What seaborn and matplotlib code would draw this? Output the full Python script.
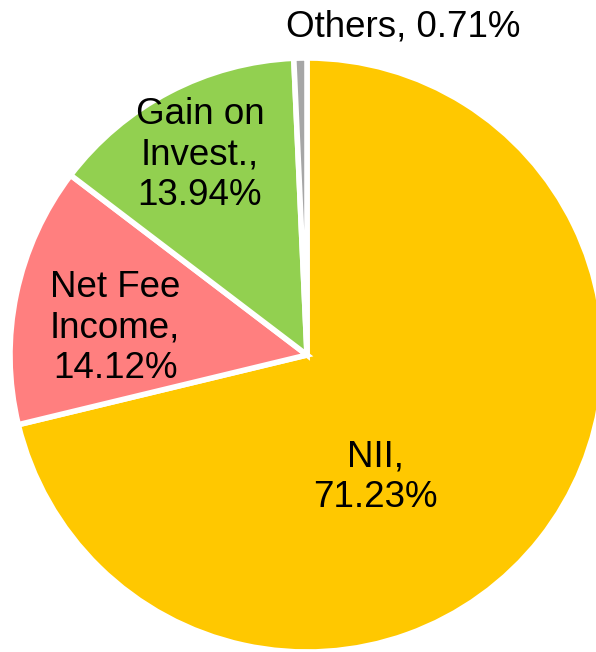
import seaborn as sns
import matplotlib.pyplot as plt

# revenue mix
categories = ["NII", "Net Fee\nIncome", "Gain on\nInvest.", "Others"]
shares = [71.23, 14.12, 13.94, 0.71]
colors = ["#FFC800", "#FF7F7F", "#92D050", "#A6A6A6"]

sns.set_style("white")
plt.rcParams['font.family'] = ['Liberation Sans', 'DejaVu Sans']

fig = plt.figure(figsize=(5.96, 6.52), dpi=100)
ax = fig.add_axes([0, 0, 1, 1])

wedges, _ = ax.pie(shares, colors=colors, startangle=90, counterclock=False,
                   center=(307, 297), radius=297,
                   wedgeprops=dict(edgecolor="white", linewidth=4))

ax.set_xlim(0, 596)
ax.set_ylim(0, 652)
ax.set_aspect("equal")
ax.axis("off")

# label spots (pixels, y from bottom)
spots = [(375, 175), (115, 324), (200, 497), (403, 625)]
for cat, val, (x, y) in zip(categories, shares, spots):
    if cat == "Others":
        txt = f"{cat}, {val:.2f}%"
    else:
        txt = f"{cat},\n{val:.2f}%"
    ax.text(x, y, txt, ha="center", va="center", fontsize=26.5,
            linespacing=1.2, color="black")

fig.savefig("out.png", dpi=100)
